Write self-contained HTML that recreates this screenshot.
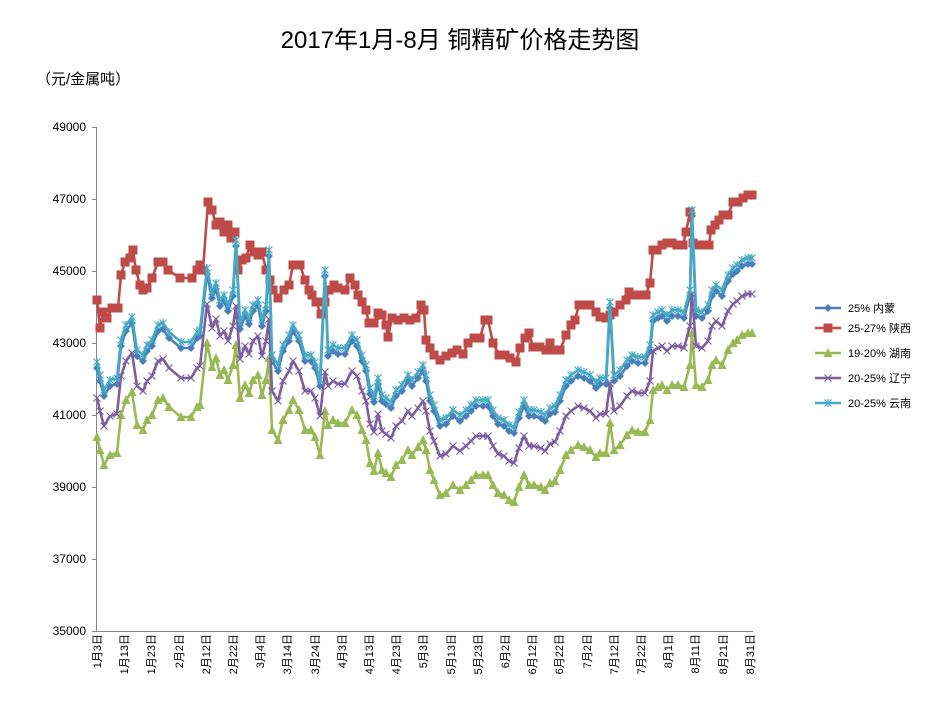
<!DOCTYPE html>
<html><head><meta charset="utf-8"><style>
body{margin:0;background:#fff;width:934px;height:699px;overflow:hidden}
text{font-family:"Liberation Sans","Noto Sans CJK SC",sans-serif}
</style></head><body>
<svg id="s" width="934" height="699" xmlns="http://www.w3.org/2000/svg">
<text x="460" y="48" font-size="24" text-anchor="middle" fill="#000">2017年1月-8月 铜精矿价格走势图</text>
<text x="36" y="84" font-size="15" fill="#000">（元/金属吨）</text>
<g font-size="12" text-anchor="end" fill="#000">
<text x="86" y="131">49000</text><text x="86" y="203">47000</text><text x="86" y="275">45000</text><text x="86" y="347">43000</text><text x="86" y="419">41000</text><text x="86" y="491">39000</text><text x="86" y="563">37000</text><text x="86" y="635">35000</text>
</g>
<g stroke="#868686" stroke-width="1">
<line x1="96.5" y1="127" x2="96.5" y2="631"/>
<line x1="96" y1="631.5" x2="753" y2="631.5"/>
<line x1="92" y1="127.5" x2="96" y2="127.5"/><line x1="92" y1="199.5" x2="96" y2="199.5"/><line x1="92" y1="271.5" x2="96" y2="271.5"/><line x1="92" y1="343.5" x2="96" y2="343.5"/><line x1="92" y1="415.5" x2="96" y2="415.5"/><line x1="92" y1="487.5" x2="96" y2="487.5"/><line x1="92" y1="559.5" x2="96" y2="559.5"/><line x1="92" y1="631.5" x2="96" y2="631.5"/>
</g>
<g id="xl" font-size="11" fill="#000" text-anchor="end">
<text transform="translate(101,634) rotate(-90)">1月3日</text>
<text transform="translate(128,634) rotate(-90)">1月13日</text>
<text transform="translate(155,634) rotate(-90)">1月23日</text>
<text transform="translate(183,634) rotate(-90)">2月2日</text>
<text transform="translate(210,634) rotate(-90)">2月12日</text>
<text transform="translate(237,634) rotate(-90)">2月22日</text>
<text transform="translate(264,634) rotate(-90)">3月4日</text>
<text transform="translate(291,634) rotate(-90)">3月14日</text>
<text transform="translate(319,634) rotate(-90)">3月24日</text>
<text transform="translate(346,634) rotate(-90)">4月3日</text>
<text transform="translate(373,634) rotate(-90)">4月13日</text>
<text transform="translate(400,634) rotate(-90)">4月23日</text>
<text transform="translate(427,634) rotate(-90)">5月3日</text>
<text transform="translate(455,634) rotate(-90)">5月13日</text>
<text transform="translate(482,634) rotate(-90)">5月23日</text>
<text transform="translate(509,634) rotate(-90)">6月2日</text>
<text transform="translate(536,634) rotate(-90)">6月12日</text>
<text transform="translate(563,634) rotate(-90)">6月22日</text>
<text transform="translate(591,634) rotate(-90)">7月2日</text>
<text transform="translate(618,634) rotate(-90)">7月12日</text>
<text transform="translate(645,634) rotate(-90)">7月22日</text>
<text transform="translate(672,634) rotate(-90)">8月1日</text>
<text transform="translate(699,634) rotate(-90)">8月11日</text>
<text transform="translate(727,634) rotate(-90)">8月21日</text>
<text transform="translate(754,634) rotate(-90)">8月31日</text>
</g>
<g font-size="11" fill="#000">
<text x="848" y="312">25% 内蒙</text>
<text x="848" y="332">25-27% 陕西</text>
<text x="848" y="357">19-20% 湖南</text>
<text x="848" y="382">20-25% 辽宁</text>
<text x="848" y="407">20-25% 云南</text>
</g>
<g id="ser"></g>
</svg>
<script>
var cy=[[97,362],[100,375],[104,390],[110,380],[117,378],[121,340],[126,325],[132,317],[137,350],[143,355],[147,345],[152,340],[158,325],[163,323],[169,332],[181,342],[191,342],[197,332],[200,330],[207,268],[212,292],[216,283],[220,300],[224,295],[228,305],[233,290],[236,240],[240,323],[245,310],[249,318],[253,305],[258,300],[262,320],[266,305],[269,250],[272,355],[278,365],[283,345],[289,335],[293,325],[299,335],[305,355],[311,355],[315,362],[320,380],[325,270],[328,350],[333,345],[338,348],[345,348],[352,335],[357,340],[362,355],[366,365],[370,388],[374,396],[378,378],[382,395],[386,398],[391,402],[396,390],[402,385],[408,375],[412,380],[418,372],[423,365],[426,375],[430,395],[434,405],[440,420],[446,418],[453,410],[460,415],[466,410],[471,405],[476,400],[483,400],[488,400],[493,410],[498,418],[504,420],[509,425],[514,427],[519,412],[524,400],[529,410],[534,410],[541,412],[545,415],[550,408],[555,406],[560,395],[566,380],[571,375],[578,370],[584,372],[590,375],[596,382],[600,378],[606,378],[610,302],[614,375],[620,370],[627,360],[632,355],[638,357],[645,357],[650,345],[653,315],[658,312],[662,310],[667,315],[672,310],[678,310],[684,312],[690,290],[692,210],[696,310],[702,312],[708,305],[712,290],[716,285],[722,290],[728,275],[733,268],[737,265],[742,260],[748,258],[752,258]];
var red=[[97,300],[100,328],[103,312],[107,318],[112,308],[118,308],[121,275],[125,262],[130,258],[133,250],[136,270],[140,285],[143,290],[147,288],[152,278],[158,262],[163,262],[168,270],[180,278],[192,278],[197,270],[200,265],[203,270],[208,202],[212,210],[216,225],[220,222],[224,232],[228,225],[231,238],[235,232],[238,270],[242,260],[246,258],[250,245],[254,252],[258,255],[262,252],[266,270],[270,280],[273,290],[278,298],[284,290],[289,285],[293,265],[300,265],[305,280],[309,290],[312,295],[316,302],[321,314],[325,302],[329,290],[334,285],[338,288],[345,290],[350,278],[355,285],[358,295],[362,302],[366,310],[369,323],[374,323],[378,313],[382,315],[386,325],[388,337],[392,318],[398,320],[404,318],[410,320],[416,318],[421,305],[424,310],[426,340],[430,348],[434,355],[440,360],[446,356],[452,353],[457,350],[463,354],[468,343],[474,338],[480,338],[485,320],[488,320],[493,343],[499,355],[505,355],[510,358],[516,362],[520,348],[525,338],[529,333],[533,347],[540,347],[546,350],[550,343],[555,350],[560,350],[566,335],[571,325],[575,320],[579,305],[585,305],[590,305],[596,312],[600,317],[606,318],[610,315],[614,312],[620,305],[626,300],[629,292],[635,295],[641,295],[646,295],[650,283],[653,250],[657,250],[662,245],[667,243],[672,243],[677,245],[683,245],[686,232],[690,212],[693,243],[698,245],[704,245],[709,245],[711,230],[715,225],[719,220],[723,215],[728,215],[733,202],[738,202],[743,198],[748,195],[752,195]];
var spikes={236:1,269:1,325:1,610:1,692:1};
function deriv(off,damp){return cy.map(function(p){var y=p[1]+off;if(spikes[p[0]]){var nb=cy[cy.indexOf(p)-1][1]+off;y=nb+(y-nb)*damp;}return [p[0],y];});}
var S=[
{d:deriv(6,1),c:"#4a7ebb",m:"d"},
{d:red,c:"#be4b48",m:"s"},
{d:deriv(75,0.4),c:"#98b954",m:"t"},
{d:deriv(36,0.4),c:"#7d5fa0",m:"x"},
{d:cy,c:"#46aac5",m:"a"}];
var g=document.getElementById("ser"),h="";
function mk(m,x,y,c){
 if(m=="d")return '<path d="M'+x+' '+(y-4)+'L'+(x+4)+' '+y+'L'+x+' '+(y+4)+'L'+(x-4)+' '+y+'Z" fill="'+c+'"/>';
 if(m=="s")return '<rect x="'+(x-4.5)+'" y="'+(y-4.5)+'" width="9" height="9" fill="'+c+'"/>';
 if(m=="t")return '<path d="M'+x+' '+(y-5)+'L'+(x+4.5)+' '+(y+4)+'L'+(x-4.5)+' '+(y+4)+'Z" fill="'+c+'"/>';
 if(m=="x")return '<path d="M'+(x-3.5)+' '+(y-3.5)+'L'+(x+3.5)+' '+(y+3.5)+'M'+(x+3.5)+' '+(y-3.5)+'L'+(x-3.5)+' '+(y+3.5)+'" stroke="'+c+'" stroke-width="1.2"/>';
 return '<path d="M'+(x-3.5)+' '+(y-3.5)+'L'+(x+3.5)+' '+(y+3.5)+'M'+(x+3.5)+' '+(y-3.5)+'L'+(x-3.5)+' '+(y+3.5)+'M'+x+' '+(y-4)+'L'+x+' '+(y+4)+'" stroke="'+c+'" stroke-width="1.2"/>';
}
var ly=[308,328,353,378,403];
S.forEach(function(s,i){
 h+='<polyline fill="none" stroke="'+s.c+'" stroke-width="2.6" stroke-linejoin="round" points="'+s.d.map(function(p){return p.join(",")}).join(" ")+'"/>';
 s.d.forEach(function(p){h+=mk(s.m,p[0],p[1],s.c);});
 h+='<line x1="815" y1="'+ly[i]+'" x2="841" y2="'+ly[i]+'" stroke="'+s.c+'" stroke-width="2.6"/>'+mk(s.m,828,ly[i],s.c);
});
g.innerHTML=h;
</script>
</body></html>
